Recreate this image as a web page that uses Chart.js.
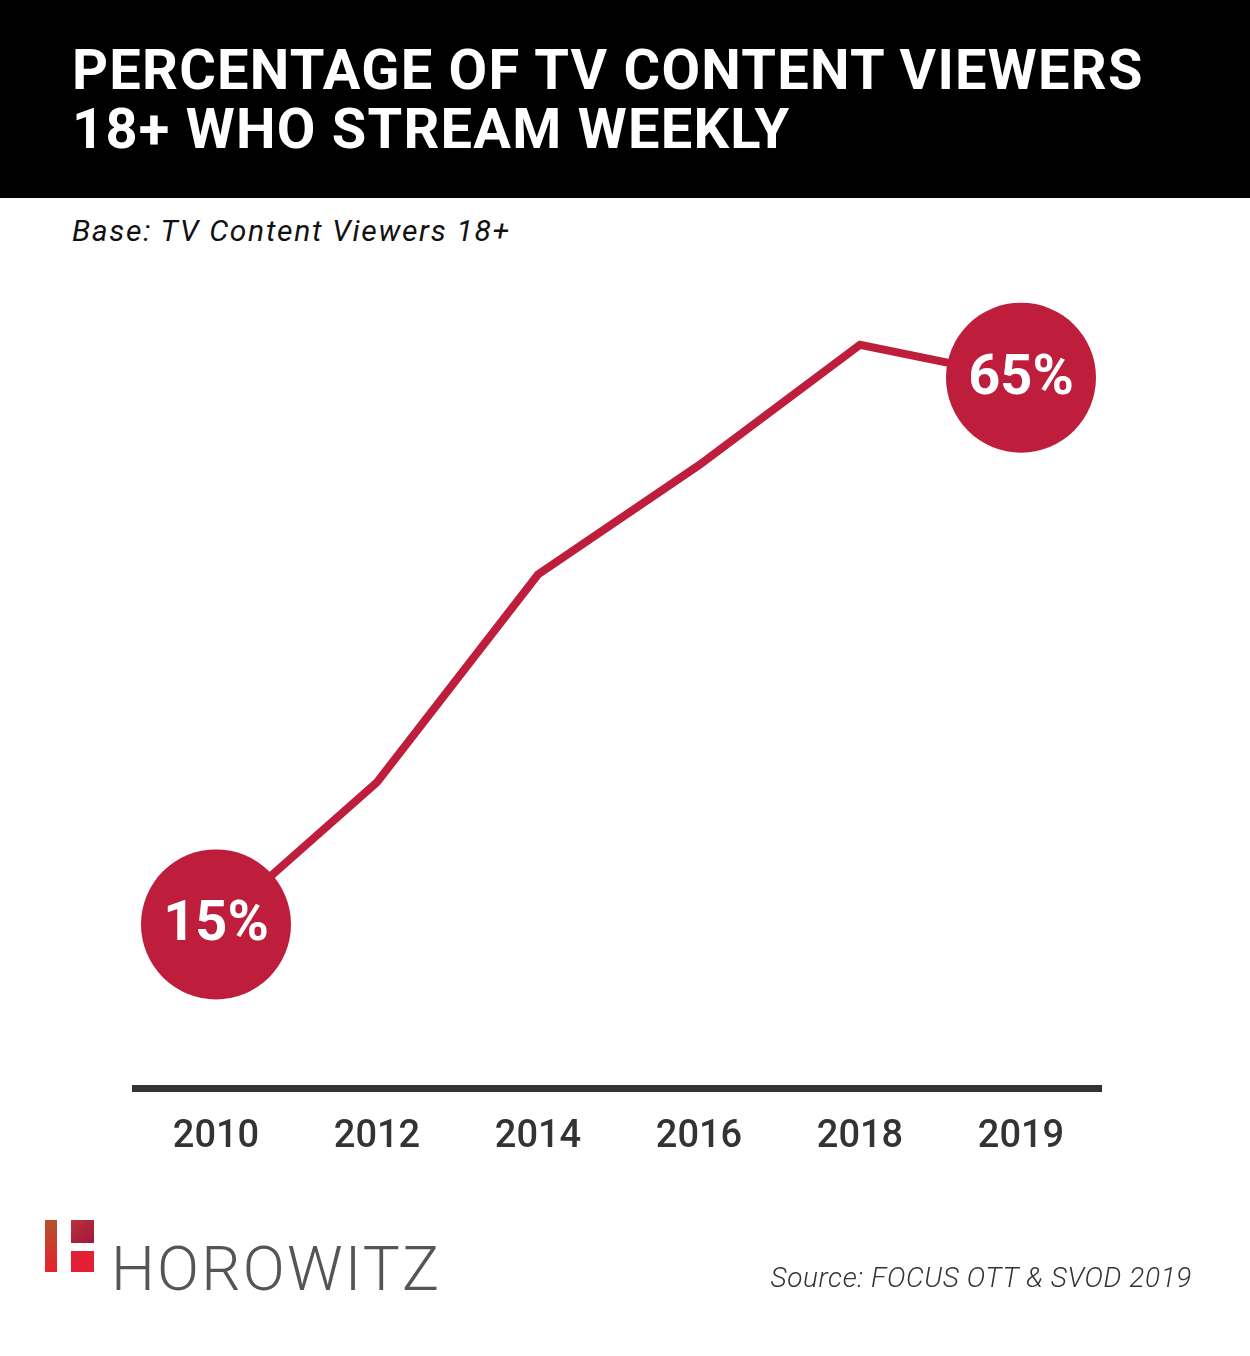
<!DOCTYPE html>
<html lang="en">
<head>
  <meta charset="UTF-8" />
  <title>Percentage of TV content viewers 18+ who stream weekly</title>
  <script src="https://cdn.jsdelivr.net/npm/chart.js"></script>
  <style>
    html, body { margin: 0; padding: 0; background: #fff; }
    body { width: 1250px; height: 1356px; position: relative; overflow: hidden; font-family: Roboto, "Noto Sans", sans-serif; }
    .header { position: absolute; left: 0; top: 0; width: 1250px; height: 198px; background: #000; }
    .title { position: absolute; left: 72px; top: 41px; color: #fff; font-weight: 700; font-size: 56px; line-height: 59px; margin: 0; letter-spacing: 1.25px; }
    .base { position: absolute; left: 72px; top: 213px; font-style: italic; font-size: 30px; color: #111; letter-spacing: 1.7px; }
    #chart { position: absolute; left: 0; top: 0; }
    .logo { position: absolute; left: 45px; top: 1220px; }
    .logo .bar { position: absolute; left: 0; top: 0; width: 12px; height: 52px; background: linear-gradient(#b4532c, #e8202f); }
    .logo .sq1 { position: absolute; left: 26px; top: 0; width: 23px; height: 23px; background: linear-gradient(135deg, #b8323d, #a3153a); }
    .logo .sq2 { position: absolute; left: 26px; top: 31px; width: 23px; height: 21px; background: #e21f35; }
    .logo .name { position: absolute; left: 66px; top: 14px; font-weight: 300; font-size: 62px; line-height: 70px; color: #555; letter-spacing: 2.2px; }
    .source { position: absolute; right: 58px; top: 1261px; font-style: italic; font-weight: 300; font-size: 28px; color: #333; letter-spacing: 0.6px; }
  </style>
</head>
<body>

  <!-- Title band -->
  <div class="header">
    <h1 class="title">PERCENTAGE OF TV CONTENT VIEWERS<br>18+ WHO STREAM WEEKLY</h1>
  </div>
  <div class="base">Base: TV Content Viewers 18+</div>

  <canvas id="chart" width="1250" height="1356"></canvas>

  <!-- Footer -->
  <div class="logo">
    <div class="bar"></div>
    <div class="sq1"></div>
    <div class="sq2"></div>
    <div class="name">HOROWITZ</div>
  </div>
  <div class="source">Source: FOCUS OTT &amp; SVOD 2019</div>

  <script>
    // values (only the end points are labelled)
    const years = ['2010', '2012', '2014', '2016', '2018', '2019'];
    const shares = [15, 28, 47, 57, 68, 65];
    const badged = [true, false, false, false, false, true];

    const red = '#be1e3c';

    // white % text inside the big end-point circles
    const badgeText = {
      id: 'badgeText',
      afterDatasetsDraw(chart) {
        const ctx = chart.ctx;
        const pts = chart.getDatasetMeta(0).data;
        ctx.save();
        ctx.fillStyle = '#fff';
        ctx.font = '700 56px Roboto';
        ctx.textAlign = 'center';
        ctx.textBaseline = 'middle';
        pts.forEach((p, i) => {
          if (badged[i]) ctx.fillText(shares[i] + '%', p.x, p.y + 2);
        });
        ctx.restore();
      }
    };

    new Chart(document.getElementById('chart'), {
      type: 'line',
      data: {
        labels: years,
        datasets: [{
          data: shares,
          borderColor: red,
          borderWidth: 8,
          tension: 0,
          fill: false,
          clip: false,
          pointRadius: badged.map(b => b ? 75 : 0),
          pointHoverRadius: badged.map(b => b ? 75 : 0),
          pointBackgroundColor: red,
          pointBorderWidth: 0
        }]
      },
      options: {
        responsive: false,
        animation: false,
        events: [],
        layout: { padding: { left: 135.5, right: 148.5, top: 323, bottom: 170 } },
        plugins: { legend: { display: false }, tooltip: { enabled: false } },
        scales: {
          x: {
            offset: true,
            grid: { display: false, drawTicks: false, tickLength: 0 },
            border: { display: true, color: '#333', width: 7 },
            ticks: { color: '#333', padding: 26, font: { family: 'Roboto', size: 38, weight: '500' } }
          },
          y: { display: false, min: 0, max: 70 }
        }
      },
      plugins: [badgeText]
    });
  </script>
</body>
</html>
